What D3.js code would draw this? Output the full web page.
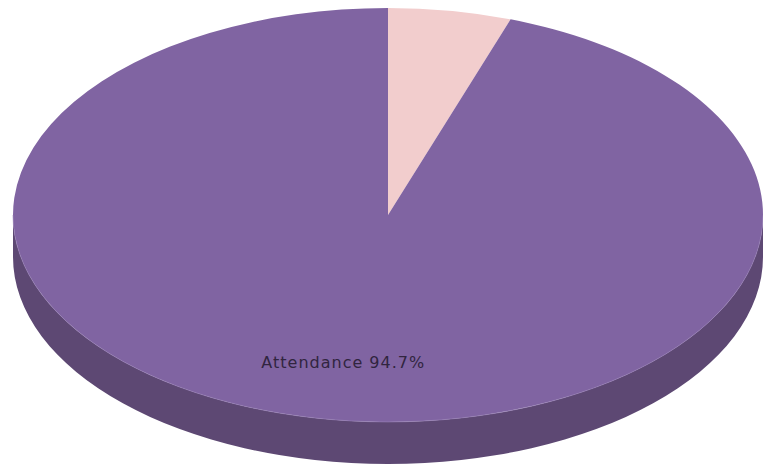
<!DOCTYPE html>
<html>
<head>
<meta charset="utf-8">
<script src="https://cdn.jsdelivr.net/npm/d3@7"></script>
<style>
  html, body { margin: 0; padding: 0; background: #fff; }
  svg { display: block; }
</style>
</head>
<body>
<div id="app"></div>
<script>
const categories = ["Absence", "Attendance"];
const values = [5.3, 94.7];
const topColors = ["#f2cdcd", "#8064a2"];
const sideColors = ["#c9a6a6", "#5d4873"];
const labelShown = [false, true];

const width = 763;
const height = 468;
const cx = 388, cy = 215;
const rx = 375, ry = 207;
const depth = 42;

const svg = d3.select('#app')
  .append('svg')
  .attr('width', width)
  .attr('height', height);

const pie = d3.pie()
  .value(d => d.value)
  .sort(null);

const data = categories.map((c, i) => ({ name: c, value: values[i], i }));
const slices = pie(data);

// point on the tilted rim, angle measured clockwise from 12 o'clock
function pt(a, dy = 0, k = 1) {
  return [cx + rx * k * Math.sin(a), cy - ry * k * Math.cos(a) + dy];
}

function topPath(d) {
  const p0 = pt(d.startAngle), p1 = pt(d.endAngle);
  const large = d.endAngle - d.startAngle > Math.PI ? 1 : 0;
  return `M${cx},${cy}L${p0}A${rx},${ry} 0 ${large} 1 ${p1}Z`;
}

// only the front half of the wall can be seen
function sidePath(d) {
  const s = Math.max(d.startAngle, Math.PI / 2);
  const e = Math.min(d.endAngle, Math.PI * 1.5);
  if (e <= s) return null;
  const large = e - s > Math.PI ? 1 : 0;
  const a = pt(s), b = pt(e), b2 = pt(e, depth), a2 = pt(s, depth);
  return `M${a}A${rx},${ry} 0 ${large} 1 ${b}L${b2}A${rx},${ry} 0 ${large} 0 ${a2}Z`;
}

svg.append('g')
  .selectAll('path')
  .data(slices.filter(d => sidePath(d)))
  .join('path')
  .attr('d', sidePath)
  .attr('fill', d => sideColors[d.data.i]);

svg.append('g')
  .selectAll('path')
  .data(slices)
  .join('path')
  .attr('d', topPath)
  .attr('fill', d => topColors[d.data.i]);

// faint highlight along the front rim
svg.append('path')
  .attr('d', `M${pt(Math.PI / 2)}A${rx},${ry} 0 0 1 ${pt(Math.PI * 1.5)}`)
  .attr('fill', 'none')
  .attr('stroke', '#9a82b8')
  .attr('stroke-width', 1)
  .attr('opacity', 0.6);

svg.append('g')
  .selectAll('text')
  .data(slices.filter(d => labelShown[d.data.i]))
  .join('text')
  .attr('transform', d => `translate(${pt((d.startAngle + d.endAngle) / 2, 0, 0.72)})`)
  .attr('dy', '0.35em')
  .attr('text-anchor', 'middle')
  .attr('font-family', 'DejaVu Sans, sans-serif')
  .attr('font-size', 16)
  .attr('letter-spacing', 1)
  .attr('fill', '#31253f')
  .text(d => `${d.data.name} ${d.data.value}%`);
</script>
</body>
</html>
